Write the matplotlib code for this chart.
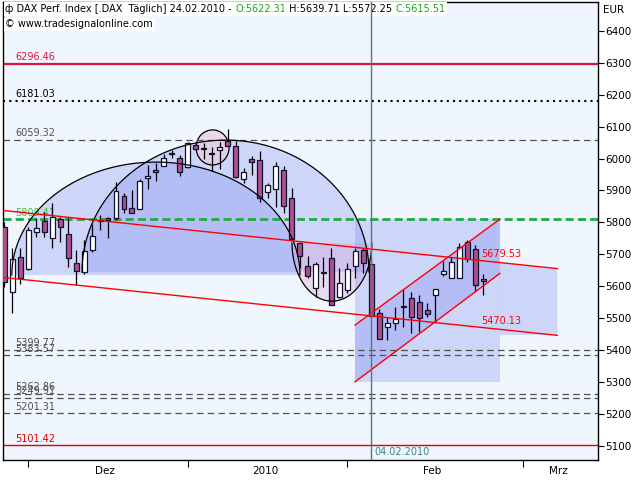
import numpy as np
import matplotlib.pyplot as plt
from matplotlib.patches import Polygon, Ellipse

# --- candles (bar index 0 = 26.11.2009 ... 60 = 24.02.2010)
opens = [5786, 5582, 5691, 5654, 5770, 5804, 5751, 5811, 5764, 5673,
         5645, 5713, 5805, 5814, 5814, 5883, 5845, 5842, 5939, 5964,
         5977, 6013, 6002, 5973, 6043, 6031, 6015, 6027, 6055, 6039,
         5936, 5999, 5996, 5895, 5905, 5964, 5876, 5736, 5663, 5594,
         5642, 5688, 5566, 5588, 5663, 5713, 5670, 5516, 5472, 5485,
         5534, 5563, 5550, 5525, 5572, 5638, 5626, 5626, 5739, 5717, 5622.31]
highs = [5800, 5720, 5720, 5786, 5814, 5833, 5861, 5817, 5814, 5713,
         5745, 5795, 5823, 5817, 5927, 5892, 5902, 5936, 5980, 5986,
         6014, 6027, 6011, 6052, 6052, 6049, 6036, 6052, 6093, 6055,
         5970, 6008, 6024, 5923, 5989, 5977, 5908, 5739, 5695, 5676,
         5692, 5720, 5657, 5673, 5720, 5720, 5688, 5529, 5503, 5535,
         5591, 5582, 5572, 5547, 5591, 5679, 5692, 5735, 5745, 5729, 5639.71]
lows = [5597, 5516, 5607, 5650, 5754, 5754, 5720, 5739, 5660, 5604,
        5638, 5707, 5776, 5751, 5807, 5830, 5830, 5842, 5905, 5930,
        5977, 6002, 5945, 5970, 6027, 5999, 5961, 5967, 6039, 5939,
        5923, 5949, 5864, 5876, 5848, 5830, 5748, 5657, 5626, 5566,
        5597, 5541, 5563, 5579, 5626, 5641, 5500, 5434, 5431, 5463,
        5472, 5453, 5456, 5503, 5491, 5632, 5626, 5626, 5676, 5585, 5572.25]
closes = [5613, 5685, 5626, 5776, 5782, 5770, 5817, 5786, 5688, 5648,
          5710, 5757, 5808, 5807, 5898, 5842, 5830, 5930, 5945, 5958,
          6002, 6015, 5958, 6049, 6030, 6029, 6013, 6036, 6039, 5942,
          5958, 5989, 5876, 5917, 5977, 5851, 5748, 5695, 5632, 5670,
          5640, 5541, 5610, 5654, 5710, 5673, 5507, 5434, 5485, 5497,
          5536, 5503, 5500, 5513, 5591, 5648, 5676, 5723, 5685, 5604, 5615.51]

# horizontal levels: value, colour, style
levels = [6296.46, 6181.03, 6059.32, 5809.41, 5399.77, 5383.57,
          5262.86, 5249.91, 5201.31, 5101.42]
level_colors = ['#dc143c', '#000000', '#505050', '#22aa44', '#505050', '#505050',
                '#505050', '#505050', '#505050', '#e00000']
level_text_colors = ['#dc143c', '#000000', '#505050', '#44bb44', '#505050', '#505050',
                     '#505050', '#505050', '#505050', '#e00000']
level_styles = ['solid', 'dot', 'dash', 'green', 'dash', 'dash', 'dash', 'dash', 'dash', 'thin']

# falling channel (bar index, price)
fall_x = [0, 69.3]
fall_upper = [5837, 5837 - 2.6245 * 69.3]
fall_lower = [5627, 5627 - 2.6145 * 69.3]
fall_lbl_x = 60
fall_lbl = [5679.53, 5470.13]
fall_fill_x = [62.1, 69.3]
fall_fill_bottom = 5447

# rising channel
rise_x = [43.95, 62.1]
rise_upper = [5478, 5810]
rise_lower = [5300, 5640]

# half ellipses (centre x, centre price, half width, half height)
arc_a = (19.0, 5635, 18.05, 354)
arc_b = (27.72, 5644, 17.98, 414)
arc_c = (41.06, 5735, 5.0, 182)
circ_d = (26.1, 6035, 2.07, 55)

vline_x = 46
vline_label = '04.02.2010'

month_ticks = [3, 23, 43, 65]
month_label_pos = [12.6, 32.7, 53.6, 69.4]
month_labels = ['Dez', '2010', 'Feb', 'Mrz']

plt.rcParams['font.family'] = 'DejaVu Sans'
fs = 7

fig = plt.figure(figsize=(6.4, 4.8), dpi=100)
fig.patch.set_facecolor('white')
ax = fig.add_axes([3 / 640, 20 / 480, 595 / 640, 458 / 480])
ax.set_facecolor('#eff6fe')
ax.set_xlim(-0.16, 74.4)
ax.set_ylim(5055, 6491)

shade = (0.45, 0.49, 0.93, 0.27)


def half_ellipse(p, upper=True):
    cx, cy, w, h = p
    t = np.linspace(0, np.pi, 120)
    if not upper:
        t = -t
    return np.column_stack([cx + w * np.cos(t), cy + h * np.sin(t)])


# shaded shapes
for p, up in [(arc_a, True), (arc_b, True)]:
    pts = half_ellipse(p, up)
    ax.add_patch(Polygon(pts, closed=True, facecolor=shade, edgecolor='none', zorder=1))
    ax.plot(pts[:, 0], pts[:, 1], color='black', lw=0.9, zorder=4)
pts = half_ellipse(arc_c, False)
ax.add_patch(Polygon(pts, closed=True, facecolor=(0.85, 0.6, 0.8, 0.3), edgecolor='none', zorder=1))
ax.plot(pts[:, 0], pts[:, 1], color='black', lw=0.9, zorder=4)
ax.add_patch(Ellipse((circ_d[0], circ_d[1]), 2 * circ_d[2], 2 * circ_d[3],
                     facecolor=(0.93, 0.8, 0.88, 0.7), edgecolor='black', lw=0.9, zorder=1.5))

# rising channel box + band
ax.add_patch(Polygon([(rise_x[0], rise_lower[0]), (rise_x[1], rise_lower[0]),
                      (rise_x[1], rise_upper[1]), (rise_x[0], rise_upper[1])],
                     facecolor=shade, edgecolor='none', zorder=1))
ax.add_patch(Polygon([(rise_x[0], rise_lower[0]), (rise_x[1], rise_lower[1]),
                      (rise_x[1], rise_upper[1]), (rise_x[0], rise_upper[0])],
                     facecolor=shade, edgecolor='none', zorder=1))
slope = (fall_upper[1] - fall_upper[0]) / (fall_x[1] - fall_x[0])
up_at = [fall_upper[0] + slope * x for x in fall_fill_x]
ax.add_patch(Polygon([(fall_fill_x[0], fall_fill_bottom), (fall_fill_x[1], fall_fill_bottom),
                      (fall_fill_x[1], up_at[1]), (fall_fill_x[0], up_at[0])],
                     facecolor=shade, edgecolor='none', zorder=1))

# horizontal levels
for v, c, tc, st in zip(levels, level_colors, level_text_colors, level_styles):
    if st == 'solid':
        ax.axhline(v, color=c, lw=1.6, zorder=2)
    elif st == 'thin':
        ax.axhline(v, color=c, lw=1.0, zorder=2)
    elif st == 'dot':
        ax.axhline(v, color=c, lw=1.5, dashes=(1, 2), zorder=2)
    elif st == 'green':
        ax.axhline(v, color=c, lw=2.0, dashes=(2.9, 1.5), zorder=2)
    else:
        ax.axhline(v, color=c, lw=0.9, dashes=(5.2, 3.4), zorder=2)
    ax.annotate(f'{v:.2f}', xy=(1.34, v), xytext=(0, 1.2), textcoords='offset points',
                color=tc, fontsize=fs, va='bottom', ha='left', zorder=2)

# candles
idx = np.arange(len(opens))
o = np.array(opens); h = np.array(highs); l = np.array(lows); c = np.array(closes)
ax.vlines(idx, l, h, color='black', lw=0.9, zorder=3)
bottom = np.minimum(o, c)
height = np.maximum(np.abs(c - o), 3)
cols = np.where(c >= o, 'white', '#b0508c')
ax.bar(idx, height, bottom=bottom, width=0.62, color=cols, edgecolor='#101030', lw=0.9, zorder=3)

# channels
ax.plot(fall_x, fall_upper, color='red', lw=1.0, zorder=5)
ax.plot(fall_x, fall_lower, color='red', lw=1.0, zorder=5)
ax.plot(rise_x, rise_upper, color='red', lw=1.0, zorder=5)
ax.plot(rise_x, rise_lower, color='red', lw=1.0, zorder=5)
for v in fall_lbl:
    ax.annotate(f'{v:.2f}', xy=(fall_lbl_x - 0.25, v), xytext=(0, 1.5), textcoords='offset points',
                color='red', fontsize=fs, va='bottom', ha='left', zorder=5)

# vertical marker
ax.axvline(vline_x, color='#4a7d7d', lw=1.0, zorder=8)
ax.annotate(vline_label, xy=(vline_x, 5055), xytext=(2, 2), textcoords='offset points',
            color='#3d8585', fontsize=fs, va='bottom', ha='left', zorder=8)

# axes
for s in ax.spines.values():
    s.set_color('black')
    s.set_linewidth(1.0)
ax.yaxis.tick_right()
ax.set_yticks(np.arange(5100, 6401, 100))
ax.tick_params(axis='y', length=4, width=0.8, pad=1.5, labelsize=fs + 0.5)
ax.set_xticks(month_ticks)
ax.set_xticklabels([])
ax.set_xticks(month_label_pos, minor=True)
ax.set_xticklabels(month_labels, minor=True)
ax.tick_params(axis='x', which='major', length=5, width=0.8)
ax.tick_params(axis='x', which='minor', length=0, pad=4, labelsize=fs + 0.5)
fig.text(603 / 640, 1 - 10 / 480, 'EUR', fontsize=fs + 0.5, va='center', ha='left')

# header
box = dict(facecolor='white', edgecolor='none', pad=1.2)
t = ax.text(0.004, 0.985, 'ф DAX Perf. Index [.DAX  Täglich] 24.02.2010 - ', transform=ax.transAxes,
            fontsize=fs, va='center', ha='left', bbox=box, zorder=6)
for s, col in [('O:5622.31', '#1aa81a'), (' H:5639.71 L:5572.25 ', 'black'), ('C:5615.51', '#1aa81a')]:
    t = ax.annotate(s, xy=(1, 0), xycoords=t, va='bottom', ha='left', color=col,
                    fontsize=fs, bbox=box, zorder=6)
ax.text(0.004, 0.951, '© www.tradesignalonline.com', transform=ax.transAxes,
        fontsize=fs, va='center', ha='left', bbox=box, zorder=6)

fig.savefig('out.png', dpi=100)
